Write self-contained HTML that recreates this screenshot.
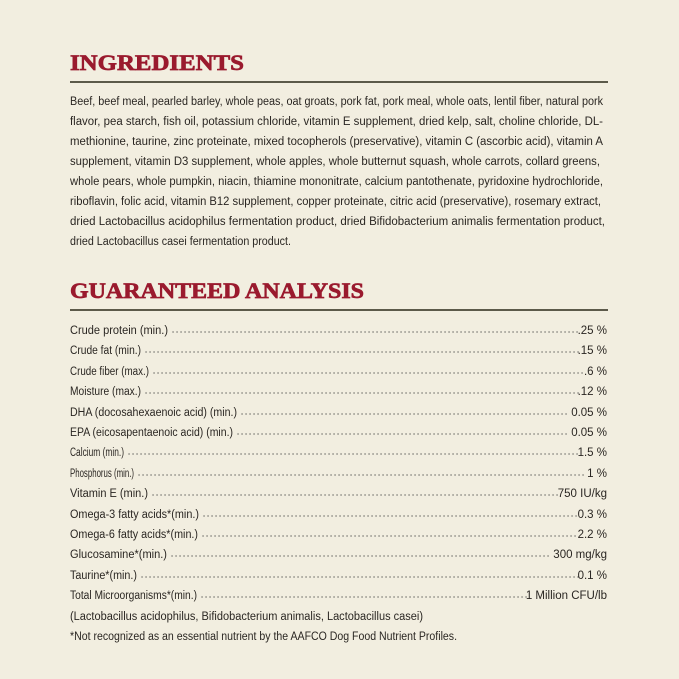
<!DOCTYPE html>
<html><head><meta charset="utf-8"><style>
html,body{margin:0;padding:0;background:#f2eee0;}
svg{display:block}
.t{font-family:"Liberation Serif",serif;font-weight:bold;fill:#9a1a2e;stroke:#9a1a2e;stroke-width:0.7px;font-size:22px}
.b{font-family:"Liberation Sans",sans-serif;font-size:11.5px;fill:#2a2622}
</style></head><body>
<svg width="679" height="679" viewBox="0 0 679 679" xmlns="http://www.w3.org/2000/svg">
<rect width="679" height="679" fill="#f2eee0"/>
<text class="t" x="70" y="70" textLength="174" lengthAdjust="spacingAndGlyphs">INGREDIENTS</text>
<rect x="70" y="81" width="538" height="2" fill="#5c5a4a"/>
<g class="b">
<text x="70" y="105" textLength="533" lengthAdjust="spacingAndGlyphs">Beef, beef meal, pearled barley, whole peas, oat groats, pork fat, pork meal, whole oats, lentil fiber, natural pork</text>
<text x="70" y="125" textLength="533" lengthAdjust="spacingAndGlyphs">flavor, pea starch, fish oil, potassium chloride, vitamin E supplement, dried kelp, salt, choline chloride, DL-</text>
<text x="70" y="145" textLength="533" lengthAdjust="spacingAndGlyphs">methionine, taurine, zinc proteinate, mixed tocopherols (preservative), vitamin C (ascorbic acid), vitamin A</text>
<text x="70" y="165" textLength="530" lengthAdjust="spacingAndGlyphs">supplement, vitamin D3 supplement, whole apples, whole butternut squash, whole carrots, collard greens,</text>
<text x="70" y="185" textLength="533" lengthAdjust="spacingAndGlyphs">whole pears, whole pumpkin, niacin, thiamine mononitrate, calcium pantothenate, pyridoxine hydrochloride,</text>
<text x="70" y="205" textLength="531" lengthAdjust="spacingAndGlyphs">riboflavin, folic acid, vitamin B12 supplement, copper proteinate, citric acid (preservative), rosemary extract,</text>
<text x="70" y="225" textLength="535" lengthAdjust="spacingAndGlyphs">dried Lactobacillus acidophilus fermentation product, dried Bifidobacterium animalis fermentation product,</text>
<text x="70" y="245" textLength="221" lengthAdjust="spacingAndGlyphs">dried Lactobacillus casei fermentation product.</text>
</g>
<text class="t" x="70" y="298" textLength="294" lengthAdjust="spacingAndGlyphs">GUARANTEED ANALYSIS</text>
<rect x="70" y="309" width="538" height="2" fill="#5c5a4a"/>
<g class="b">
<text x="70" y="620" textLength="353" lengthAdjust="spacingAndGlyphs">(Lactobacillus acidophilus, Bifidobacterium animalis, Lactobacillus casei)</text>
<text x="70" y="640" textLength="387" lengthAdjust="spacingAndGlyphs">*Not recognized as an essential nutrient by the AAFCO Dog Food Nutrient Profiles.</text>
</g>
<g class="b" stroke-dasharray="0.1 3.9">
<text x="70" y="334" textLength="98" lengthAdjust="spacingAndGlyphs">Crude protein (min.)</text><line x1="173" y1="332" x2="580" y2="332" stroke="#444" stroke-width="1.2" stroke-dasharray="0.1 3.9" stroke-linecap="round"/><text x="607" y="334" text-anchor="end">.25 %</text>
<text x="70" y="354" textLength="71" lengthAdjust="spacingAndGlyphs">Crude fat (min.)</text><line x1="146" y1="352" x2="580" y2="352" stroke="#444" stroke-width="1.2" stroke-dasharray="0.1 3.9" stroke-linecap="round"/><text x="607" y="354" text-anchor="end">.15 %</text>
<text x="70" y="375" textLength="79" lengthAdjust="spacingAndGlyphs">Crude fiber (max.)</text><line x1="154" y1="373" x2="586" y2="373" stroke="#444" stroke-width="1.2" stroke-dasharray="0.1 3.9" stroke-linecap="round"/><text x="607" y="375" text-anchor="end">.6 %</text>
<text x="70" y="395" textLength="71" lengthAdjust="spacingAndGlyphs">Moisture (max.)</text><line x1="146" y1="393" x2="580" y2="393" stroke="#444" stroke-width="1.2" stroke-dasharray="0.1 3.9" stroke-linecap="round"/><text x="607" y="395" text-anchor="end">.12 %</text>
<text x="70" y="416" textLength="167" lengthAdjust="spacingAndGlyphs">DHA (docosahexaenoic acid) (min.)</text><line x1="242" y1="414" x2="570" y2="414" stroke="#444" stroke-width="1.2" stroke-dasharray="0.1 3.9" stroke-linecap="round"/><text x="607" y="416" text-anchor="end">0.05 %</text>
<text x="70" y="436" textLength="163" lengthAdjust="spacingAndGlyphs">EPA (eicosapentaenoic acid) (min.)</text><line x1="238" y1="434" x2="570" y2="434" stroke="#444" stroke-width="1.2" stroke-dasharray="0.1 3.9" stroke-linecap="round"/><text x="607" y="436" text-anchor="end">0.05 %</text>
<text x="70" y="456" textLength="54" lengthAdjust="spacingAndGlyphs">Calcium (min.)</text><line x1="129" y1="454" x2="578" y2="454" stroke="#444" stroke-width="1.2" stroke-dasharray="0.1 3.9" stroke-linecap="round"/><text x="607" y="456" text-anchor="end">1.5 %</text>
<text x="70" y="477" textLength="64" lengthAdjust="spacingAndGlyphs">Phosphorus (min.)</text><line x1="139" y1="475" x2="587" y2="475" stroke="#444" stroke-width="1.2" stroke-dasharray="0.1 3.9" stroke-linecap="round"/><text x="607" y="477" text-anchor="end">1 %</text>
<text x="70" y="497" textLength="78" lengthAdjust="spacingAndGlyphs">Vitamin E (min.)</text><line x1="153" y1="495" x2="558" y2="495" stroke="#444" stroke-width="1.2" stroke-dasharray="0.1 3.9" stroke-linecap="round"/><text x="607" y="497" text-anchor="end">750 IU/kg</text>
<text x="70" y="518" textLength="129" lengthAdjust="spacingAndGlyphs">Omega-3 fatty acids*(min.)</text><line x1="204" y1="516" x2="579" y2="516" stroke="#444" stroke-width="1.2" stroke-dasharray="0.1 3.9" stroke-linecap="round"/><text x="607" y="518" text-anchor="end">0.3 %</text>
<text x="70" y="538" textLength="128" lengthAdjust="spacingAndGlyphs">Omega-6 fatty acids*(min.)</text><line x1="203" y1="536" x2="579" y2="536" stroke="#444" stroke-width="1.2" stroke-dasharray="0.1 3.9" stroke-linecap="round"/><text x="607" y="538" text-anchor="end">2.2 %</text>
<text x="70" y="558" textLength="97" lengthAdjust="spacingAndGlyphs">Glucosamine*(min.)</text><line x1="172" y1="556" x2="552" y2="556" stroke="#444" stroke-width="1.2" stroke-dasharray="0.1 3.9" stroke-linecap="round"/><text x="607" y="558" text-anchor="end">300 mg/kg</text>
<text x="70" y="579" textLength="67" lengthAdjust="spacingAndGlyphs">Taurine*(min.)</text><line x1="142" y1="577" x2="580" y2="577" stroke="#444" stroke-width="1.2" stroke-dasharray="0.1 3.9" stroke-linecap="round"/><text x="607" y="579" text-anchor="end">0.1 %</text>
<text x="70" y="599" textLength="127" lengthAdjust="spacingAndGlyphs">Total Microorganisms*(min.)</text><line x1="202" y1="597" x2="530" y2="597" stroke="#444" stroke-width="1.2" stroke-dasharray="0.1 3.9" stroke-linecap="round"/><text x="607" y="599" text-anchor="end">1 Million CFU/lb</text>
</g>
</svg>
</body></html>
